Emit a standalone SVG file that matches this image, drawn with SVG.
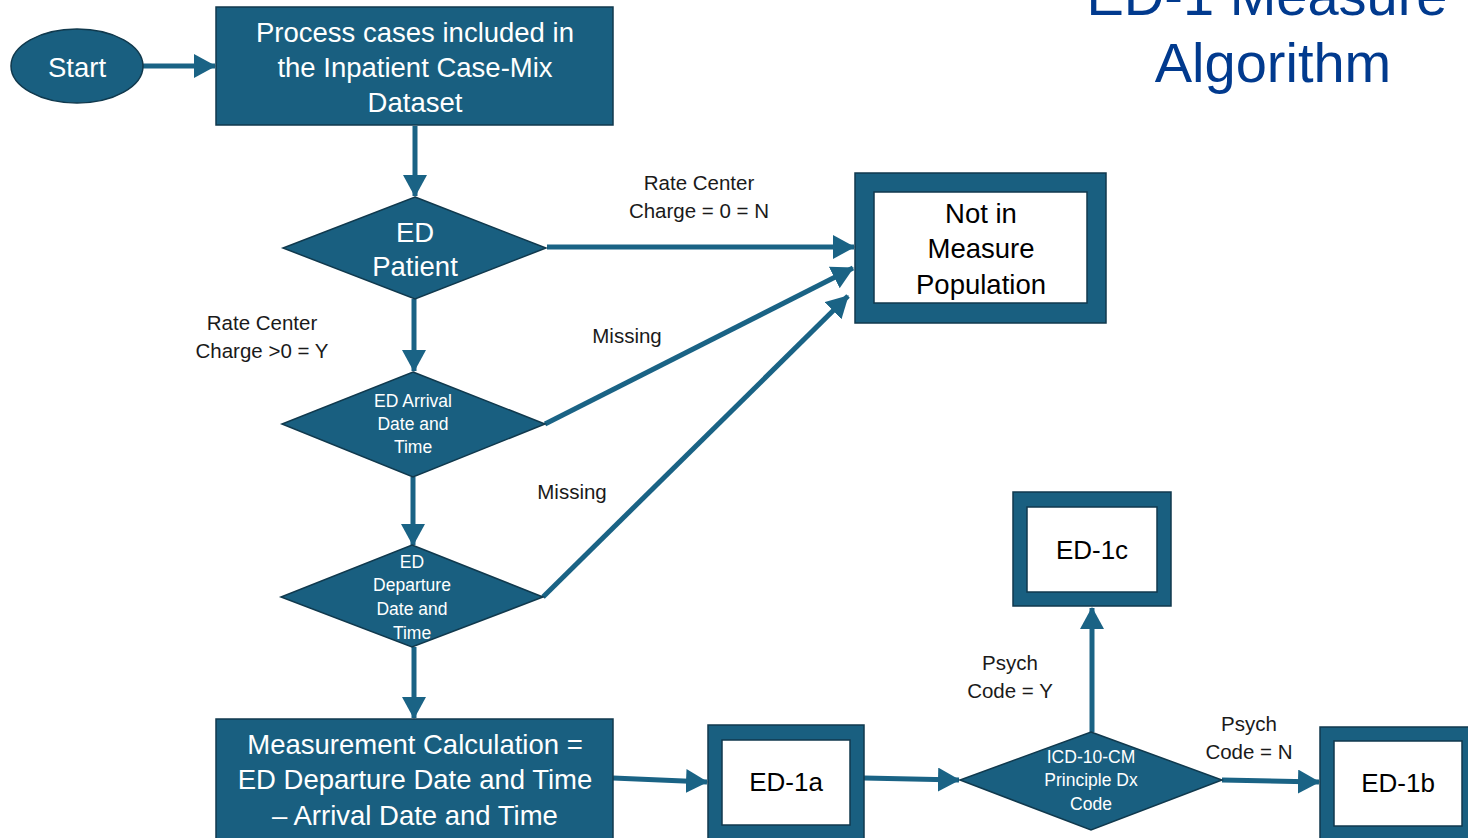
<svg xmlns="http://www.w3.org/2000/svg" width="1468" height="838" viewBox="0 0 1468 838">
<style>
.shape{fill:#195f80;stroke:#10394d;stroke-width:1.5}
.inner{fill:#ffffff;stroke:#10394d;stroke-width:1.5}
.wt{font-family:"Liberation Sans",Arial,sans-serif;fill:#ffffff;text-anchor:middle;dominant-baseline:central}
.bt{font-family:"Liberation Sans",Arial,sans-serif;fill:#000000;text-anchor:middle;dominant-baseline:central}
.lbl{font-family:"Liberation Sans",Arial,sans-serif;fill:#1a1a1a;text-anchor:middle;dominant-baseline:central;font-size:20.5px}
.big{font-size:27.5px}
.sm{font-size:17.5px}
.conn{stroke:#1a6385;stroke-width:5;fill:none;marker-end:url(#ah)}
.title{font-family:"Liberation Sans",Arial,sans-serif;fill:#013a8e;font-size:56px;text-anchor:middle}
</style>
<defs>
<marker id="ah" markerUnits="userSpaceOnUse" markerWidth="24" markerHeight="24" refX="21" refY="12" orient="auto">
<path d="M0,0 L22,12 L0,24 z" fill="#1a6385"/>
</marker>
</defs>
<rect width="1468" height="838" fill="#ffffff"/>
<g id="title">
<text class="title" x="1267" y="15">ED-1 Measure</text>
<text class="title" x="1273" y="82">Algorithm</text>
</g>
<g id="connectors">
<line class="conn" x1="143" y1="66" x2="215" y2="66"/>
<line class="conn" x1="415" y1="126" x2="415" y2="196"/>
<line class="conn" x1="547" y1="247" x2="854" y2="247"/>
<line class="conn" x1="414" y1="299" x2="414" y2="371"/>
<line class="conn" x1="545" y1="424" x2="853" y2="268"/>
<line class="conn" x1="413" y1="477" x2="413" y2="545"/>
<line class="conn" x1="543" y1="597" x2="848" y2="296"/>
<line class="conn" x1="414" y1="647" x2="414" y2="718"/>
<line class="conn" x1="613" y1="778" x2="707" y2="782"/>
<line class="conn" x1="864" y1="778" x2="959" y2="780"/>
<line class="conn" x1="1092" y1="732" x2="1092" y2="608"/>
<line class="conn" x1="1222" y1="780" x2="1319" y2="782"/>
</g>
<g id="labels">
<text class="lbl" x="699" y="182">Rate Center</text>
<text class="lbl" x="699" y="210">Charge = 0 = N</text>
<text class="lbl" x="262" y="322">Rate Center</text>
<text class="lbl" x="262" y="350">Charge &gt;0 = Y</text>
<text class="lbl" x="627" y="335">Missing</text>
<text class="lbl" x="572" y="491">Missing</text>
<text class="lbl" x="1010" y="662">Psych</text>
<text class="lbl" x="1010" y="690">Code = Y</text>
<text class="lbl" x="1249" y="723">Psych</text>
<text class="lbl" x="1249" y="751">Code = N</text>
</g>
<g id="start">
<ellipse class="shape" cx="77" cy="66" rx="66" ry="37"/>
<text class="wt big" x="77" y="67">Start</text>
</g>
<g id="process">
<rect class="shape" x="216" y="7" width="397" height="118"/>
<text class="wt big" x="415" y="32">Process cases included in</text>
<text class="wt big" x="415" y="67">the  Inpatient Case-Mix</text>
<text class="wt big" x="415" y="102">Dataset</text>
</g>
<g id="ed-patient">
<polygon class="shape" points="415,197 546,248 415,299 283,248"/>
<text class="wt big" x="415" y="232">ED</text>
<text class="wt big" x="415" y="266">Patient</text>
</g>
<g id="not-in-measure">
<rect class="shape" x="855" y="173" width="251" height="150"/>
<rect class="inner" x="874" y="192" width="213" height="111"/>
<text class="bt big" x="981" y="213">Not in</text>
<text class="bt big" x="981" y="248">Measure</text>
<text class="bt big" x="981" y="284">Population</text>
</g>
<g id="ed-arrival">
<polygon class="shape" points="413,372 545,424 413,477 282,424"/>
<text class="wt sm" x="413" y="401">ED Arrival</text>
<text class="wt sm" x="413" y="424">Date and</text>
<text class="wt sm" x="413" y="447">Time</text>
</g>
<g id="ed-departure">
<polygon class="shape" points="412,545 543,597 412,647 281,597"/>
<text class="wt sm" x="412" y="562">ED</text>
<text class="wt sm" x="412" y="585">Departure</text>
<text class="wt sm" x="412" y="609">Date and</text>
<text class="wt sm" x="412" y="633">Time</text>
</g>
<g id="measurement">
<rect class="shape" x="216" y="719" width="397" height="130"/>
<text class="wt big" x="415" y="744">Measurement Calculation =</text>
<text class="wt big" x="415" y="779">ED Departure Date and Time</text>
<text class="wt big" x="415" y="815">– Arrival Date and Time</text>
</g>
<g id="ed-1a">
<rect class="shape" x="708" y="725" width="156" height="125"/>
<rect class="inner" x="722" y="740" width="128" height="85"/>
<text class="bt" x="786" y="782" font-size="26">ED-1a</text>
</g>
<g id="icd">
<polygon class="shape" points="1091,732 1222,780 1091,830 960,780"/>
<text class="wt sm" x="1091" y="757">ICD-10-CM</text>
<text class="wt sm" x="1091" y="780">Principle Dx</text>
<text class="wt sm" x="1091" y="804">Code</text>
</g>
<g id="ed-1c">
<rect class="shape" x="1013" y="492" width="158" height="114"/>
<rect class="inner" x="1027" y="507" width="130" height="85"/>
<text class="bt" x="1092" y="550" font-size="26">ED-1c</text>
</g>
<g id="ed-1b">
<rect class="shape" x="1320" y="727" width="158" height="125"/>
<rect class="inner" x="1334" y="741" width="128" height="85"/>
<text class="bt" x="1398" y="783" font-size="26">ED-1b</text>
</g>
</svg>
